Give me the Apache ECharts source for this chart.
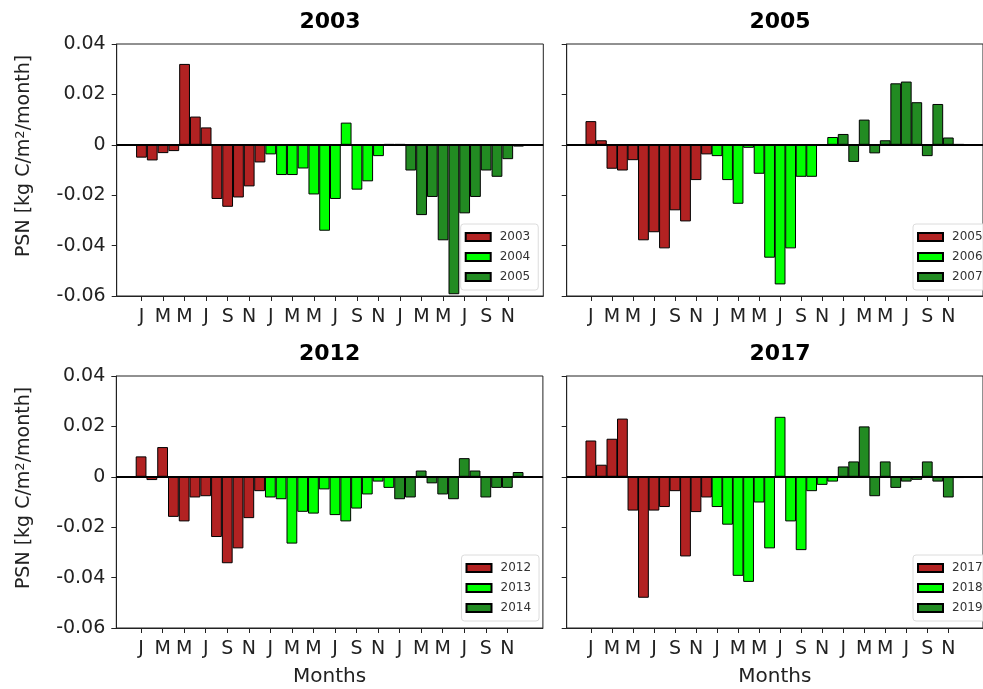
<!DOCTYPE html>
<html>
<head>
<meta charset="utf-8">
<script src="https://cdn.jsdelivr.net/npm/echarts@6/dist/echarts.min.js"></script>
<style>
  html, body { margin: 0; padding: 0; background: #fff; }
  #chart { width: 983px; height: 689px; }
</style>
</head>
<body>
<div id="chart"></div>
<script>
// Monthly PSN anomalies [kg C/m2/month], three consecutive years per panel
const monthTicks = ['J', 'M', 'M', 'J', 'S', 'N'];
const yTicks = [-0.06, -0.04, -0.02, 0, 0.02, 0.04];

const panelTitles = ['2003', '2005', '2012', '2017'];
const panelYears = [
  ['2003', '2004', '2005'],
  ['2005', '2006', '2007'],
  ['2012', '2013', '2014'],
  ['2017', '2018', '2019']
];

// panel "2003"
const psnA2003 = [-0.0051, -0.0062, -0.0033, -0.0025, 0.0321, 0.0112, 0.0069, -0.0215, -0.0246, -0.0209, -0.0165, -0.0070];
const psnA2004 = [-0.0038, -0.0120, -0.0120, -0.0094, -0.0197, -0.0341, -0.0215, 0.0088, -0.0178, -0.0145, -0.0045, 0.0003];
const psnA2005 = [0.0003, -0.0102, -0.0279, -0.0207, -0.0379, -0.0593, -0.0272, -0.0207, -0.0102, -0.0127, -0.0057, -0.0007];

// panel "2005"
const psnB2005 = [0.0094, 0.0018, -0.0095, -0.0102, -0.0061, -0.0379, -0.0347, -0.0411, -0.0260, -0.0304, -0.0140, -0.0038];
const psnB2006 = [-0.0045, -0.0140, -0.0234, -0.0012, -0.0115, -0.0448, -0.0554, -0.0411, -0.0127, -0.0127, -0.0002, 0.0031];
const psnB2007 = [0.0043, -0.0068, 0.0100, -0.0034, 0.0018, 0.0244, 0.0251, 0.0169, -0.0045, 0.0162, 0.0029, 0.0003];

// panel "2012"
const psnC2012 = [0.0081, -0.0013, 0.0118, -0.0159, -0.0177, -0.0082, -0.0077, -0.0239, -0.0343, -0.0284, -0.0164, -0.0057];
const psnC2013 = [-0.0082, -0.0089, -0.0265, -0.0139, -0.0146, -0.0050, -0.0152, -0.0177, -0.0126, -0.0070, -0.0019, -0.0044];
const psnC2014 = [-0.0089, -0.0082, 0.0025, -0.0026, -0.0070, -0.0089, 0.0074, 0.0025, -0.0082, -0.0044, -0.0044, 0.0019];

// panel "2017"
const psnD2017 = [0.0144, 0.0048, 0.0151, 0.0231, -0.0134, -0.0480, -0.0134, -0.0120, -0.0057, -0.0316, -0.0140, -0.0082];
const psnD2018 = [-0.0120, -0.0190, -0.0393, -0.0417, -0.0102, -0.0284, 0.0238, -0.0177, -0.0291, -0.0057, -0.0032, -0.0019];
const psnD2019 = [0.0041, 0.0061, 0.0200, -0.0077, 0.0061, -0.0044, -0.0019, -0.0012, 0.0061, -0.0019, -0.0082, -0.0005];

const panelValues = [
  [psnA2003, psnA2004, psnA2005],
  [psnB2005, psnB2006, psnB2007],
  [psnC2012, psnC2013, psnC2014],
  [psnD2017, psnD2018, psnD2019]
];

// layout
const FONT = '"DejaVu Sans", "Liberation Sans", sans-serif';
const yearColors = ['#b22222', '#00ff00', '#228b22'];
const plotW = 426.6, plotH = 252;
const grids = [
  { left: 116.7, top: 44 },
  { left: 566.7, top: 44 },
  { left: 116.3, top: 376 },
  { left: 566.7, top: 376 }
];
const legendPos = [
  { left: 460.7, top: 224 },
  { left: 913, top: 224 },
  { left: 461.5, top: 555 },
  { left: 913, top: 555 }
];
const xMin = -2.3, xMax = 37.3;
const barPx = plotW / (xMax - xMin);
const tickValues = [];
for (let i = 0; i < 36; i += 2) tickValues.push(i);

const option = {
  animation: false,
  backgroundColor: '#fff',
  grid: [], xAxis: [], yAxis: [], series: [], legend: [], graphic: []
};

grids.forEach((g, p) => {
  option.grid.push({
    left: g.left, top: g.top, width: plotW, height: plotH,
    show: true, borderColor: '#222', borderWidth: 1, backgroundColor: 'transparent'
  });
  const bottomRow = p >= 2;
  option.xAxis.push({
    type: 'value', gridIndex: p, min: xMin, max: xMax,
    name: bottomRow ? 'Months' : '',
    nameLocation: 'middle', nameGap: 39,
    nameTextStyle: { fontFamily: FONT, fontSize: 20, color: '#222' },
    axisLine: { show: true, onZero: false, lineStyle: { color: '#222', width: 1 } },
    axisTick: { show: true, inside: false, length: 5, customValues: tickValues, lineStyle: { color: '#222' } },
    axisLabel: {
      show: true, customValues: tickValues, margin: 12,
      fontFamily: FONT, fontSize: 19, color: '#222',
      formatter: v => monthTicks[Math.round(v % 12) / 2]
    },
    splitLine: { show: false }
  });
  const leftCol = p % 2 === 0;
  option.yAxis.push({
    type: 'value', gridIndex: p, min: -0.06, max: 0.04, interval: 0.02,
    axisLine: { show: true, onZero: false, lineStyle: { color: '#222', width: 1 } },
    axisTick: { show: true, inside: false, length: 5, lineStyle: { color: '#222' } },
    axisLabel: {
      show: leftCol, margin: 11, fontFamily: FONT, fontSize: 19, color: '#222',
      formatter: v => (Math.abs(v) < 1e-9 ? '0' : v.toFixed(2))
    },
    splitLine: { show: false }
  });

  const names = [];
  panelValues[p].forEach((vals, k) => {
    const name = panelTitles[p] + '|' + panelYears[p][k];
    names.push(name);
    const s = {
      type: 'bar', name: name, xAxisIndex: p, yAxisIndex: p,
      barWidth: barPx, barGap: '-100%',
      itemStyle: { color: yearColors[k], borderColor: '#000', borderWidth: 1 },
      data: vals.map((v, m) => [12 * k + m, v]),
      z: 2
    };
    if (k === 2) {
      s.markLine = {
        silent: true, symbol: ['none', 'none'], label: { show: false },
        lineStyle: { color: '#000', width: 2, type: 'solid' },
        data: [{ yAxis: 0 }], z: 5
      };
    }
    option.series.push(s);
  });

  option.legend.push({
    data: names, orient: 'vertical',
    left: legendPos[p].left, top: legendPos[p].top,
    padding: [7, 8, 7, 4], itemGap: 8, itemWidth: 25, itemHeight: 8,
    icon: 'rect', selectedMode: false,
    backgroundColor: 'rgba(255,255,255,0.85)', borderColor: '#dcdcdc', borderWidth: 1, borderRadius: 3,
    textStyle: { fontFamily: FONT, fontSize: 12, color: '#333', padding: [0, 0, 0, 4] },
    formatter: n => n.split('|')[1]
  });

  // panel title
  option.graphic.push({
    type: 'text', x: g.left + plotW / 2, y: g.top - 22,
    style: {
      text: panelTitles[p], font: 'bold 22px ' + FONT, fill: '#000',
      align: 'center', verticalAlign: 'middle', textAlign: 'center', textVerticalAlign: 'middle'
    }
  });

  // y axis title on the left column
  if (leftCol) {
    option.graphic.push({
      type: 'text', x: 24, y: g.top + 112, rotation: Math.PI / 2,
      style: {
        text: 'PSN [kg C/m{sup|2}/month]', font: '19px ' + FONT, fill: '#222',
        align: 'center', verticalAlign: 'middle', textAlign: 'center', textVerticalAlign: 'middle',
        rich: { sup: { fontSize: 13, fontFamily: FONT, verticalAlign: 'top', fill: '#222' } }
      }
    });
  }
});

const chart = echarts.init(document.getElementById('chart'), null, { renderer: 'canvas' });
chart.setOption(option);
</script>
</body>
</html>
